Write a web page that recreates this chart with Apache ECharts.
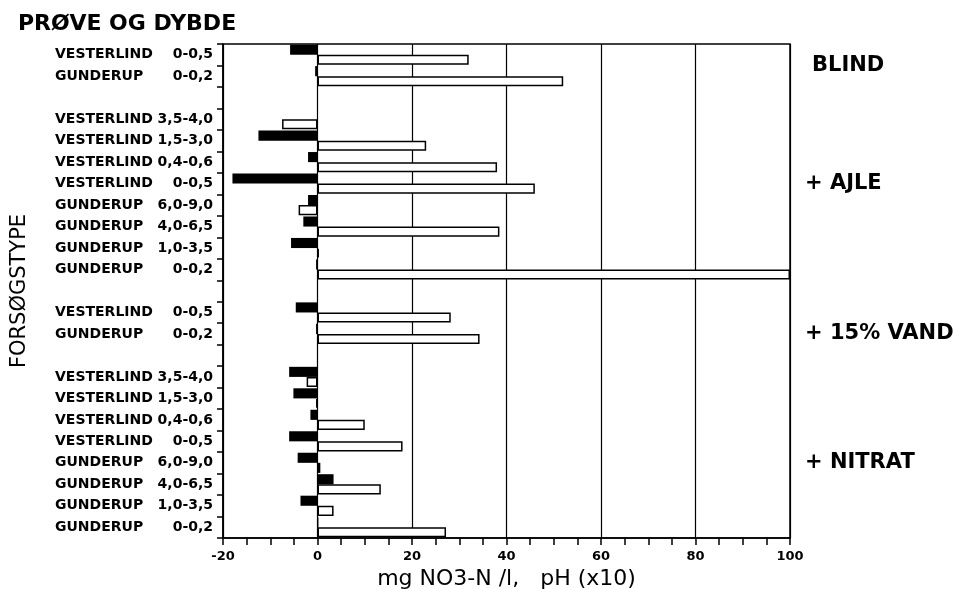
<!DOCTYPE html>
<html>
<head>
<meta charset="utf-8">
<script src="https://cdn.jsdelivr.net/npm/echarts@6/dist/echarts.min.js"></script>
<style>
html, body { margin: 0; padding: 0; background: #fff; }
#chart { width: 953px; height: 589px; }
</style>
</head>
<body>
<div id="chart"></div>
<script>
// rows from top to bottom, '' rows are the gaps between groups
const sampleNames = ['VESTERLIND', 'GUNDERUP', '',
    'VESTERLIND', 'VESTERLIND', 'VESTERLIND', 'VESTERLIND', 'GUNDERUP', 'GUNDERUP', 'GUNDERUP', 'GUNDERUP', '',
    'VESTERLIND', 'GUNDERUP', '',
    'VESTERLIND', 'VESTERLIND', 'VESTERLIND', 'VESTERLIND', 'GUNDERUP', 'GUNDERUP', 'GUNDERUP', 'GUNDERUP']
const depths = ['0-0,5', '0-0,2', '',
    '3,5-4,0', '1,5-3,0', '0,4-0,6', '0-0,5', '6,0-9,0', '4,0-6,5', '1,0-3,5', '0-0,2', '',
    '0-0,5', '0-0,2', '',
    '3,5-4,0', '1,5-3,0', '0,4-0,6', '0-0,5', '6,0-9,0', '4,0-6,5', '1,0-3,5', '0-0,2']
const groupLabels = ['BLIND', '', '',
    '', '', '', '+ AJLE', '', '', '', '', '',
    '', '+ 15% VAND', '',
    '', '', '', '', '+ NITRAT', '', '', '']

// black bars: mg NO3-N/l, white bars: pH (x10)
const no3Values = [-5.8, -0.5, null,
    0, -12.5, -2, -18, -2, -3, -5.6, -0.3, null,
    -4.6, -0.3, null,
    -6, -5.1, -1.5, -6, -4.2, 3.4, -3.6, 0.2]
const phValues = [32, 52, null,
    -7.5, 23, 38, 46, -4, 38.5, 0.3, 100, null,
    28.2, 34.3, null,
    -2.3, -0.3, 10, 18, 0.6, 13.4, 3.4, 27.2]

const xTicks = { min: -20, max: 100, interval: 20 }

const rows = depths.map((d, i) => String(i))

const chart = echarts.init(document.getElementById('chart'))

const option = {
    animation: false,
    title: {
        text: 'PRØVE OG DYBDE',
        left: 13,
        top: 8,
        textStyle: { fontFamily: 'DejaVu Sans', fontWeight: 'bold', fontSize: 22, color: '#000' }
    },
    grid: {
        left: 223,
        right: 163,
        top: 44,
        bottom: 51,
        outerBoundsMode: 'none',
        containLabel: false,
        show: true,
        borderColor: '#000',
        borderWidth: 1.5
    },
    xAxis: {
        type: 'value',
        min: xTicks.min,
        max: xTicks.max,
        interval: xTicks.interval,
        name: 'mg NO3-N /l,   pH (x10)',
        nameLocation: 'middle',
        nameGap: 29,
        nameTextStyle: { fontFamily: 'DejaVu Sans', fontSize: 22, color: '#000' },
        axisLine: { show: true, lineStyle: { color: '#000', width: 1.5 } },
        axisTick: { show: true, length: 7, lineStyle: { color: '#000', width: 1.5 } },
        minorTick: { show: true, splitNumber: 4, length: 7, lineStyle: { color: '#000', width: 1.5 } },
        axisLabel: { fontFamily: 'DejaVu Sans', fontWeight: 'bold', fontSize: 13, color: '#000', margin: 12 },
        splitLine: { show: true, lineStyle: { color: '#000', width: 1.2 } }
    },
    yAxis: [
        {
            type: 'category',
            inverse: true,
            data: rows,
            name: 'FORSØGSTYPE',
            nameLocation: 'middle',
            nameRotate: 90,
            nameGap: 193,
            nameTextStyle: { fontFamily: 'DejaVu Sans', fontSize: 21, color: '#000' },
            axisLine: { show: true, onZero: false, lineStyle: { color: '#000', width: 1.5 } },
            axisTick: { show: true, length: 6, lineStyle: { color: '#000', width: 1.5 } },
            axisLabel: {
                margin: 10,
                formatter: (value, index) => {
                    if (!sampleNames[index]) return ''
                    return '{n|' + sampleNames[index] + '}{d|' + depths[index] + '}'
                },
                rich: {
                    n: { fontFamily: 'DejaVu Sans', fontWeight: 'bold', fontSize: 14, color: '#000', width: 100, align: 'left' },
                    d: { fontFamily: 'DejaVu Sans', fontWeight: 'bold', fontSize: 14, color: '#000', width: 58, align: 'right' }
                }
            }
        },
        {
            type: 'category',
            inverse: true,
            position: 'right',
            data: rows,
            axisLine: { show: false },
            axisTick: { show: false },
            axisLabel: {
                margin: 15,
                formatter: (value, index) => {
                    if (!groupLabels[index]) return ''
                    return index === 0 ? '{top|' + groupLabels[index] + '}' : '{g|' + groupLabels[index] + '}'
                },
                rich: {
                    g: { fontFamily: 'DejaVu Sans', fontWeight: 'bold', fontSize: 21, color: '#000' },
                    top: { fontFamily: 'DejaVu Sans', fontWeight: 'bold', fontSize: 21, color: '#000', padding: [21, 0, 0, 7] }
                }
            }
        }
    ],
    series: [
        {
            name: 'NO3-N',
            type: 'bar',
            yAxisIndex: 0,
            data: no3Values,
            barGap: '0%',
            barCategoryGap: '6%',
            itemStyle: { color: '#000' }
        },
        {
            name: 'pH',
            type: 'bar',
            yAxisIndex: 0,
            data: phValues,
            itemStyle: { color: '#fff', borderColor: '#000', borderWidth: 1.5 }
        }
    ]
}

chart.setOption(option)
</script>
</body>
</html>
